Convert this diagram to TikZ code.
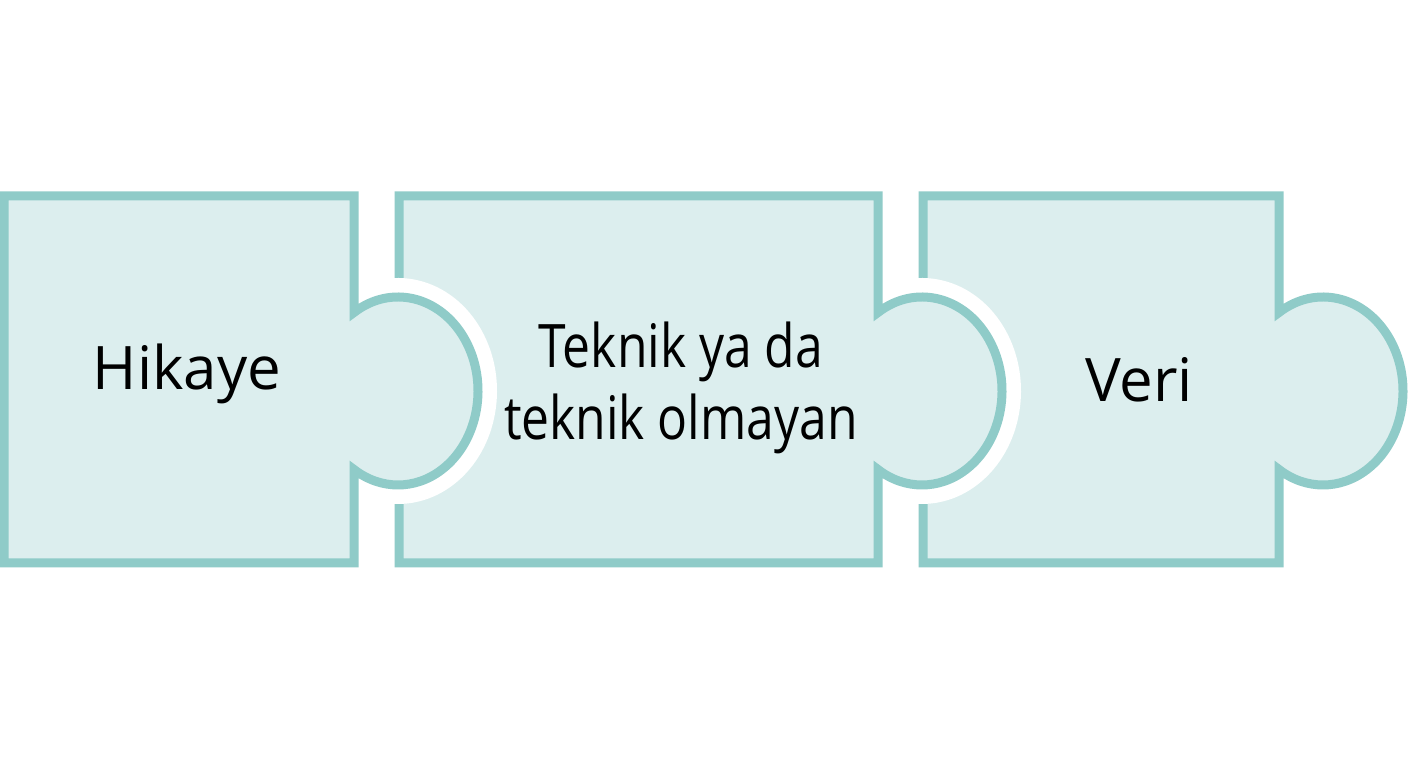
\documentclass[tikz,border=0pt]{standalone}
\usepackage{fontspec}
\setmainfont{Open Sans}
\definecolor{pzfill}{HTML}{DCEEEE}
\definecolor{pzline}{HTML}{8FCBC8}
\tikzset{
    puzzle/.style={fill=pzfill,draw=pzline,line width=9pt,
        preaction={draw=white,line width=38pt,line join=round}},
    label/.style={font=\fontsize{60}{72}\selectfont,align=center,anchor=base}
}
\begin{document}
\begin{tikzpicture}[x=1pt,y=1pt]
        \useasboundingbox (0,0) rectangle (1408,768);

        % Puzzleteile (von rechts nach links, damit der weisse Rand den Nachbarn ueberdeckt)
        \foreach \l/\r in {923/1279,399/878,4/354} {
            \draw[puzzle] (\l,572) -- (\r,572) -- (\r,455.5)
                arc[start angle=123.37,end angle=-123.37,x radius=80,y radius=94]
                -- (\r,205) -- (\l,205) -- cycle;
        }

        % Beschriftungen
        \node[label] (hikaye) at (187,378) {Hikaye};
        \node[label,xscale=0.83,transform shape] (teknik) at (681,328) {Teknik ya da\\teknik olmayan};
        \node[label] (veri) at (1139,366) {Veri};
    \end{tikzpicture}
\end{document}
